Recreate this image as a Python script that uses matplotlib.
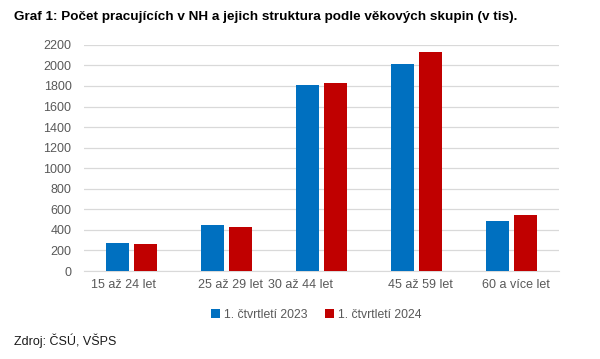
import matplotlib.pyplot as plt
from matplotlib.transforms import ScaledTranslation
import numpy as np

plt.rcParams['font.family'] = ['Liberation Sans', 'DejaVu Sans']

# data (thousands)
categories = ['15 až 24 let', '25 až 29 let', '30 až 44 let', '45 až 59 let', '60 a více let']
q1_2023 = [275, 445, 1805, 2015, 490]
q1_2024 = [265, 425, 1825, 2130, 550]
series_names = ['1. čtvrtletí 2023', '1. čtvrtletí 2024']

fig = plt.figure(figsize=(6, 3.59), dpi=100)
ax = fig.add_axes([0.14, 0.245, 0.792, 0.63])

x = np.arange(len(categories))
w = 0.24
gap = 0.05
ax.bar(x - (w + gap) / 2, q1_2023, w, color='#0070C0', label=series_names[0], zorder=3)
ax.bar(x + (w + gap) / 2, q1_2024, w, color='#C00000', label=series_names[1], zorder=3)

ax.set_xlim(-0.5, len(categories) - 0.5)
ax.set_ylim(0, 2200)
ax.set_yticks(range(0, 2201, 200))
ax.grid(axis='y', color='#d9d9d9', linewidth=0.9, zorder=0)
for s in ['top', 'right', 'left']:
    ax.spines[s].set_visible(False)
ax.spines['bottom'].set_color('#d9d9d9')
ax.tick_params(axis='y', length=0, labelsize=9, labelcolor='#595959', pad=9)
ax.tick_params(axis='x', length=0, labelsize=9, labelcolor='#595959', pad=6)
ax.set_xticks(x)
ax.set_xticklabels(categories)
# Excel shifts the category labels a little (middle one most)
shifts_px = [-8, 4, -21, 4, 4]
for lab, dx in zip(ax.get_xticklabels(), shifts_px):
    lab.set_transform(lab.get_transform() + ScaledTranslation(dx / 100, 0, fig.dpi_scale_trans))

fig.text(0.023, 0.952, 'Graf 1: Počet pracujících v NH a jejich struktura podle věkových skupin (v tis).',
         fontsize=9.7, fontweight='bold', color='black', va='center')
fig.text(0.023, 0.05, 'Zdroj: ČSÚ, VŠPS', fontsize=9, color='#1a1a1a', va='center')

fig.legend(loc='center', bbox_to_anchor=(0.527, 0.123), ncol=2, frameon=False,
           fontsize=8.8, labelcolor='#595959', handlelength=0.7, handleheight=0.7,
           handletextpad=0.3, columnspacing=1.5)

fig.savefig('out.png', dpi=100)
